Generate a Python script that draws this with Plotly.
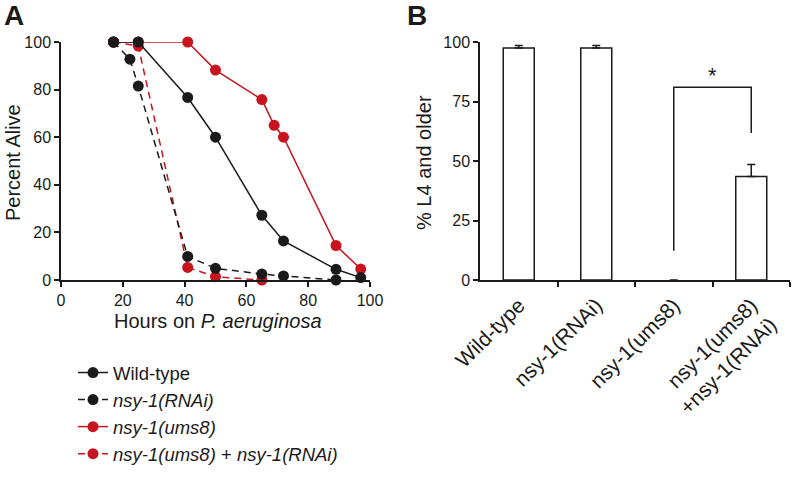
import plotly.graph_objects as go

# ---------- Panel A data ----------
wt_x = [17, 25, 41, 50, 65, 72, 89, 97]
wt_y = [100, 100, 76.7, 60, 27.2, 16.4, 4.5, 1]
rnai_x = [17, 22.3, 25, 41, 50, 65, 72, 89]
rnai_y = [100, 92.8, 81.5, 9.9, 4.9, 2.5, 1.7, 0]
ums8_x = [17, 25, 41, 50, 65, 69, 72, 89, 97]
ums8_y = [100, 100, 100, 88.2, 75.8, 65, 60, 14.5, 4.6]
combo_x = [17, 25, 41, 50, 65]
combo_y = [100, 98.3, 5.3, 1.4, 0]

# ---------- Panel B data ----------
b_cats = ["Wild-type", "nsy-1(RNAi)", "nsy-1(ums8)", "nsy-1(ums8)<br>+nsy-1(RNAi)"]
b_vals = [97.5, 97.5, 0, 43.5]
b_err = [1.0, 1.0, 0, 5.0]
bracket_x = [2, 2, 3, 3]
bracket_y = [12.3, 81, 81, 61.8]
star_pos = (2.5, 86)

BLACK = "#1a1a1a"
RED = "#c8141e"
FONT = "Liberation Sans, Arial, sans-serif"
DASH = "7px,5px"

fig = go.Figure()

# red traces first so black markers sit on top
fig.add_trace(go.Scatter(x=ums8_x, y=ums8_y, mode="lines+markers",
                         name="<i>nsy-1(ums8)</i>", legendrank=3,
                         line=dict(color=RED, width=1.5),
                         marker=dict(color=RED, size=11),
                         xaxis="x", yaxis="y", cliponaxis=False))
fig.add_trace(go.Scatter(x=combo_x, y=combo_y, mode="lines+markers",
                         name="<i>nsy-1(ums8)</i> + <i>nsy-1(RNAi)</i>", legendrank=4,
                         line=dict(color=RED, width=1.5, dash=DASH),
                         marker=dict(color=RED, size=11),
                         xaxis="x", yaxis="y", cliponaxis=False))
fig.add_trace(go.Scatter(x=rnai_x, y=rnai_y, mode="lines+markers",
                         name="<i>nsy-1(RNAi)</i>", legendrank=2,
                         line=dict(color=BLACK, width=1.5, dash=DASH),
                         marker=dict(color=BLACK, size=11),
                         xaxis="x", yaxis="y", cliponaxis=False))
fig.add_trace(go.Scatter(x=wt_x, y=wt_y, mode="lines+markers",
                         name="Wild-type", legendrank=1,
                         line=dict(color=BLACK, width=1.5),
                         marker=dict(color=BLACK, size=11),
                         xaxis="x", yaxis="y", cliponaxis=False))

# Panel B bars
fig.add_trace(go.Bar(x=list(range(len(b_vals))), y=b_vals, width=0.4,
                     marker=dict(color="white",
                                 line=dict(color=BLACK,
                                           width=[1.5 if v > 0 else 0 for v in b_vals])),
                     error_y=dict(type="data", symmetric=False, array=b_err,
                                  arrayminus=[0] * len(b_err), color=BLACK,
                                  thickness=1.5, width=4),
                     showlegend=False, xaxis="x2", yaxis="y2", cliponaxis=False))
fig.add_trace(go.Scatter(x=bracket_x, y=bracket_y, mode="lines",
                         line=dict(color=BLACK, width=1.5),
                         showlegend=False, xaxis="x2", yaxis="y2", cliponaxis=False))

W, H = 794, 480
ya_dom = [1 - 280 / H, 1 - 42 / H]

axis_common = dict(showline=True, linecolor=BLACK, linewidth=1.5, ticks="outside",
                   ticklen=5, tickwidth=1.5, tickcolor=BLACK, showgrid=False,
                   zeroline=False, automargin=False,
                   tickfont=dict(size=16, color=BLACK, family=FONT))

fig.update_layout(
    width=W, height=H, margin=dict(l=0, r=0, t=0, b=0),
    paper_bgcolor="white", plot_bgcolor="white",
    font=dict(family=FONT, color=BLACK),
    xaxis=dict(domain=[61 / W, 370 / W], range=[0, 100], dtick=20, anchor="y",
               **axis_common),
    yaxis=dict(domain=ya_dom, range=[0, 100], dtick=20, anchor="x",
               **axis_common),
    xaxis2=dict(domain=[480 / W, 790 / W], range=[-0.5, 3.5], anchor="y2",
                tickvals=[0.5, 1.5, 2.5, 3.5], showticklabels=False, **axis_common),
    xaxis3=dict(domain=[480 / W, 790 / W], range=[-0.5, 3.5], anchor="y2", overlaying="x2",
                tickmode="array", tickvals=list(range(len(b_cats))), ticktext=b_cats,
                tickangle=-45, ticks="", showline=False, showgrid=False, zeroline=False,
                automargin=False, ticklabelstandoff=8,
                tickfont=dict(size=21, color=BLACK, family=FONT)),
    yaxis2=dict(domain=ya_dom, range=[0, 100], tickvals=[0, 25, 50, 75, 100], anchor="x2",
                **axis_common),
    legend=dict(x=73 / W, y=1 - 354 / H, xanchor="left", yanchor="top",
                font=dict(size=18.5, color=BLACK, family=FONT), tracegroupgap=0,
                bgcolor="rgba(0,0,0,0)"),
    annotations=[
        dict(text="<b>A</b>", x=2 / W, y=1, xref="paper", yref="paper", xanchor="left",
             yanchor="top", showarrow=False, font=dict(size=28, color=BLACK), yshift=2),
        dict(text="<b>B</b>", x=405 / W, y=1, xref="paper", yref="paper", xanchor="left",
             yanchor="top", showarrow=False, font=dict(size=28, color=BLACK), yshift=2),
        dict(text="Hours on <i>P. aeruginosa</i>", x=218 / W, y=1 - 321 / H,
             xref="paper", yref="paper", xanchor="center", yanchor="middle",
             showarrow=False, font=dict(size=20, color=BLACK)),
        dict(text="Percent Alive", x=13 / W, y=1 - 163 / H, textangle=-90,
             xref="paper", yref="paper", xanchor="center", yanchor="middle",
             showarrow=False, font=dict(size=20, color=BLACK)),
        dict(text="% L4 and older", x=424 / W, y=1 - 162 / H, textangle=-90,
             xref="paper", yref="paper", xanchor="center", yanchor="middle",
             showarrow=False, font=dict(size=20, color=BLACK)),
        dict(text="*", x=star_pos[0], y=star_pos[1], xref="x2", yref="y2", showarrow=False,
             font=dict(size=22, color=BLACK)),
    ],
)
# dummy trace to activate xaxis3
fig.add_trace(go.Scatter(x=[0], y=[None], xaxis="x3", yaxis="y2", showlegend=False,
                         hoverinfo="skip"))

fig.write_html("out.html", config={"displayModeBar": False},
               post_script="document.body.style.margin='0px';document.body.style.overflow='hidden';")
